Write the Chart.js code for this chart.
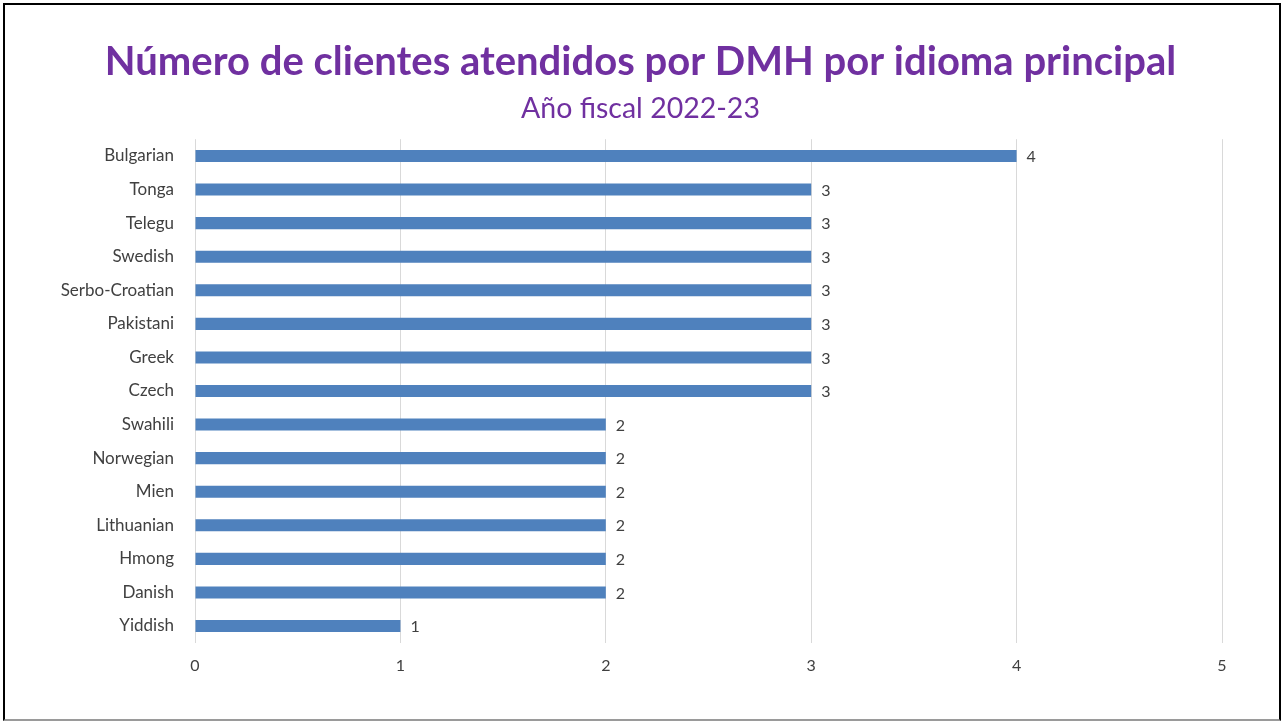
<!DOCTYPE html>
<html>
<head>
<meta charset="utf-8">
<script src="https://cdn.jsdelivr.net/npm/chart.js@4"></script>
<style>
  html, body { margin: 0; padding: 0; background: #fff; }
  #wrap { position: relative; width: 1281px; height: 721px; }
  #frame {
    position: absolute; left: 3px; top: 3px; width: 1274px; height: 714px;
    border: 2px solid #000; border-bottom-color: #9a9a9a; pointer-events: none;
  }
</style>
</head>
<body>
<div id="wrap">
  <canvas id="chart" width="1281" height="721"></canvas>
  <div id="frame"></div>
</div>
<script>
// languages, top to bottom as shown
const languages = ['Bulgarian', 'Tonga', 'Telegu', 'Swedish', 'Serbo-Croatian', 'Pakistani', 'Greek',
  'Czech', 'Swahili', 'Norwegian', 'Mien', 'Lithuanian', 'Hmong', 'Danish', 'Yiddish'];
const clients = [4, 3, 3, 3, 3, 3, 3, 3, 2, 2, 2, 2, 2, 2, 1];
const xTicks = [0, 1, 2, 3, 4, 5];

const titleText = 'Número de clientes atendidos por DMH por idioma principal';
const subtitleText = 'Año fiscal 2022-23';

const FONT = "Lato, 'Open Sans', sans-serif";
const PURPLE = '#7030A0';
const TEXT = '#404040';

// value labels to the right of each bar
const barLabels = {
  id: 'barLabels',
  afterDatasetsDraw(chart) {
    const ctx = chart.ctx;
    const meta = chart.getDatasetMeta(0);
    ctx.save();
    ctx.font = `16px ${FONT}`;
    ctx.fillStyle = TEXT;
    ctx.textAlign = 'left';
    ctx.textBaseline = 'middle';
    meta.data.forEach((bar, i) => {
      ctx.fillText(String(clients[i]), bar.x + 10, bar.y + 1);
    });
    ctx.restore();
  }
};

new Chart(document.getElementById('chart').getContext('2d'), {
  type: 'bar',
  data: {
    labels: languages,
    datasets: [{
      data: clients,
      backgroundColor: '#4F81BD',
      borderWidth: 0,
      barPercentage: 0.6,
      categoryPercentage: 0.6,
    }],
  },
  options: {
    indexAxis: 'y',
    responsive: false,
    animation: false,
    layout: { padding: { left: 0, right: 0, top: 0, bottom: 33 } },
    scales: {
      x: {
        min: 0,
        max: 5,
        afterBuildTicks(scale) { scale.ticks = xTicks.map(v => ({ value: v })); },
        afterFit(scale) { scale.paddingRight = 59; },
        grid: { color: '#d9d9d9', lineWidth: 1, drawTicks: false },
        border: { display: false },
        ticks: { padding: 13, color: TEXT, font: { family: FONT, size: 16 } },
      },
      y: {
        grid: { display: false, drawTicks: false },
        border: { display: false },
        ticks: { padding: 21, color: TEXT, font: { family: FONT, size: 17 } },
        afterFit(scale) { scale.width = 195; },
      },
    },
    plugins: {
      legend: { display: false },
      tooltip: { enabled: false },
      title: {
        display: true,
        text: titleText,
        color: PURPLE,
        font: { family: FONT, size: 40, weight: 'bold', lineHeight: 1.2 },
        padding: { top: 38, bottom: 6 },
      },
      subtitle: {
        display: true,
        text: subtitleText,
        color: PURPLE,
        font: { family: FONT, size: 28.5, weight: 'normal', lineHeight: 1.2 },
        padding: { top: 0, bottom: 13 },
      },
    },
  },
  plugins: [barLabels],
});
</script>
</body>
</html>
